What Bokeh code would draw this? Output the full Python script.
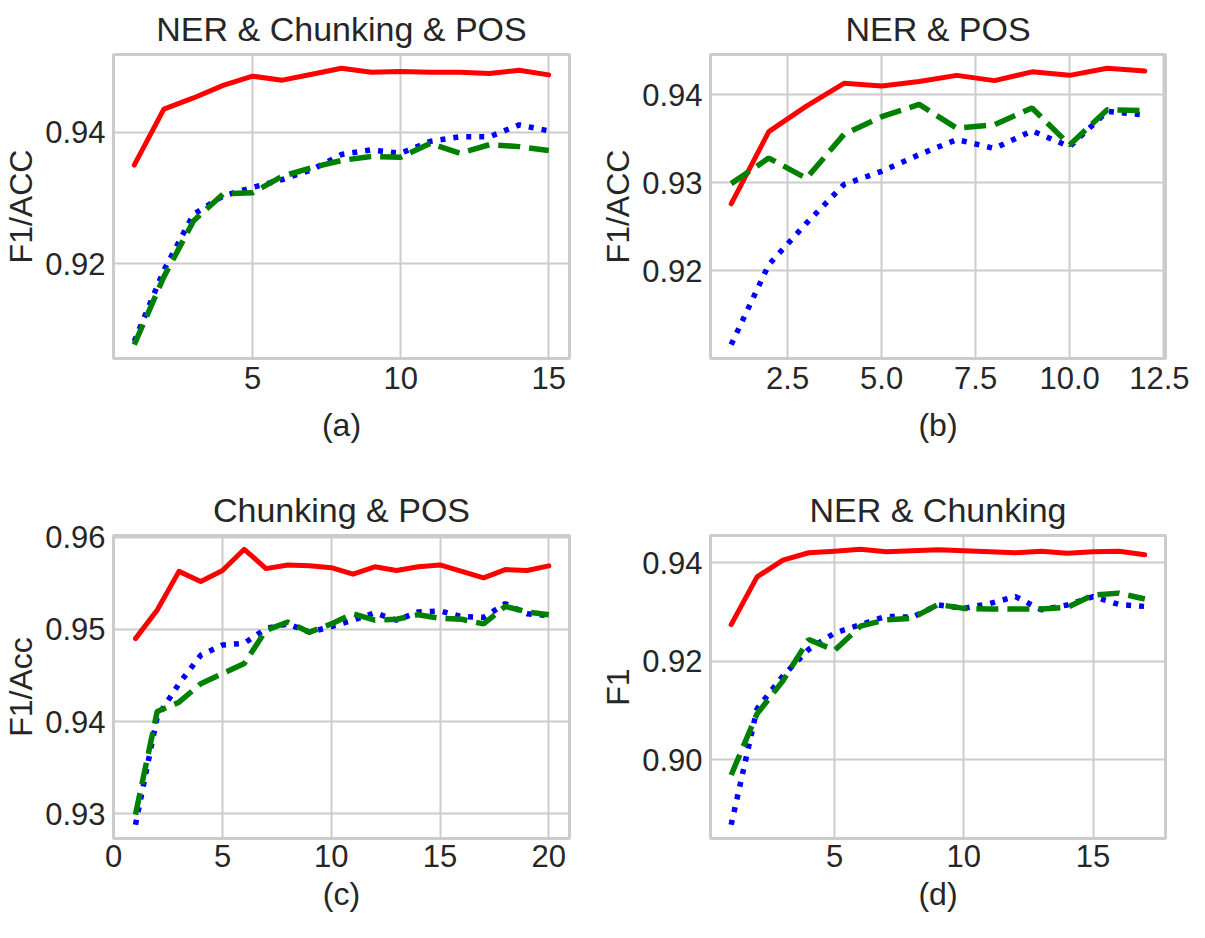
from bokeh.plotting import figure
from bokeh.layouts import gridplot
from bokeh.models import Range1d, FixedTicker, PrintfTickFormatter
from bokeh.embed import file_html
from bokeh.resources import INLINE

# ---------------- data ----------------
x_a = [1, 2, 3, 4, 5, 6, 7, 8, 9, 10, 11, 12, 13, 14, 15]
solid_a = [0.9350, 0.9435, 0.9452, 0.9471, 0.9485, 0.9479, 0.9488, 0.9497, 0.9491,
           0.9492, 0.9491, 0.9491, 0.9489, 0.9494, 0.9487]
dotted_a = [0.9082, 0.9190, 0.9275, 0.9303, 0.9316, 0.9328, 0.9343, 0.9366, 0.9373,
            0.9368, 0.9386, 0.9393, 0.9393, 0.9411, 0.9402]
dashed_a = [0.9077, 0.9180, 0.9265, 0.9306, 0.9308, 0.9333, 0.9346, 0.9357, 0.9363,
            0.9362, 0.9383, 0.9368, 0.9381, 0.9378, 0.9372]

x_b = [1, 2, 3, 4, 5, 6, 7, 8, 9, 10, 11, 12]
solid_b = [0.9276, 0.9358, 0.9387, 0.9413, 0.9410, 0.9415, 0.9422, 0.9416, 0.9426,
           0.9422, 0.9430, 0.9427]
dotted_b = [0.9116, 0.9207, 0.9254, 0.9298, 0.9313, 0.9332, 0.9349, 0.9339, 0.9359,
            0.9341, 0.9381, 0.9377]
dashed_b = [0.9299, 0.9328, 0.9305, 0.9355, 0.9375, 0.9389, 0.9362, 0.9366, 0.9385,
            0.9343, 0.9383, 0.9382]

x_c = [1, 2, 3, 4, 5, 6, 7, 8, 9, 10, 11, 12, 13, 14, 15, 16, 17, 18, 19, 20]
solid_c = [0.9490, 0.9521, 0.9563, 0.9552, 0.9564, 0.9587, 0.9566, 0.9570, 0.9569,
           0.9567, 0.9560, 0.9568, 0.9564, 0.9568, 0.9570, 0.9563, 0.9556, 0.9565,
           0.9564, 0.9569]
dotted_c = [0.9288, 0.9405, 0.9441, 0.9472, 0.9483, 0.9485, 0.9501, 0.9506, 0.9497,
            0.9503, 0.9510, 0.9518, 0.9510, 0.9519, 0.9520, 0.9514, 0.9513, 0.9528,
            0.9517, 0.9515]
dashed_c = [0.9299, 0.9411, 0.9421, 0.9441, 0.9452, 0.9463, 0.9499, 0.9508, 0.9497,
            0.9506, 0.9517, 0.9510, 0.9511, 0.9516, 0.9512, 0.9511, 0.9506, 0.9525,
            0.9519, 0.9516]

x_d = [1, 2, 3, 4, 5, 6, 7, 8, 9, 10, 11, 12, 13, 14, 15, 16, 17]
solid_d = [0.9274, 0.9371, 0.9405, 0.9420, 0.9423, 0.9427, 0.9422, 0.9424, 0.9426,
           0.9424, 0.9422, 0.9420, 0.9423, 0.9419, 0.9422, 0.9423, 0.9416]
dotted_d = [0.8868, 0.9103, 0.9170, 0.9224, 0.9257, 0.9274, 0.9291, 0.9289, 0.9314,
            0.9307, 0.9317, 0.9331, 0.9304, 0.9314, 0.9331, 0.9315, 0.9311]
dashed_d = [0.8969, 0.9093, 0.9160, 0.9244, 0.9222, 0.9271, 0.9284, 0.9287, 0.9315,
            0.9307, 0.9306, 0.9306, 0.9306, 0.9309, 0.9334, 0.9338, 0.9326]

titles = ["NER & Chunking & POS", "NER & POS", "Chunking & POS", "NER & Chunking"]
xlabels = ["(a)", "(b)", "(c)", "(d)"]
ylabels = ["F1/ACC", "F1/ACC", "F1/Acc", "F1"]

xticks_a = [5, 10, 15]
yticks_a = [0.92, 0.94]
xticks_b = [2.5, 5.0, 7.5, 10.0, 12.5]
yticks_b = [0.91, 0.92, 0.93, 0.94]
xticks_c = [0, 5, 10, 15, 20]
yticks_c = [0.93, 0.94, 0.95, 0.96]
xticks_d = [5, 10, 15]
yticks_d = [0.90, 0.92, 0.94]

# ---------------- styling ----------------
TEXT = "#262626"
GRID = "#cccccc"
FONT = "Liberation Sans"


def padded(lo, hi, frac=0.05):
    d = (hi - lo) * frac
    return lo - d, hi + d


def panel(title, xlabel, ylabel, x, solid, dotted, dashed, xticks, yticks,
          xfmt, yfmt, width, height, bl, br, bt, bb, xtick_standoff,
          xlab_standoff, xstart=None):
    x0, x1 = padded(min(x), max(x))
    if xstart is not None:
        x0 = xstart
    allv = solid + dotted + dashed
    y0, y1 = padded(min(allv), max(allv))
    p = figure(width=width, height=height, output_backend="svg",
               toolbar_location=None, x_range=Range1d(x0, x1),
               y_range=Range1d(y0, y1), title=title,
               min_border_left=bl, min_border_right=br,
               min_border_top=bt, min_border_bottom=bb)
    p.background_fill_color = "white"
    p.border_fill_color = "white"
    p.outline_line_color = GRID
    p.outline_line_width = 3

    p.title.text_font = FONT
    p.title.text_font_size = "34px"
    p.title.text_font_style = "normal"
    p.title.text_color = TEXT
    p.title.align = "center"
    p.title.standoff = 14

    p.xaxis.ticker = FixedTicker(ticks=xticks)
    p.yaxis.ticker = FixedTicker(ticks=yticks)
    p.xaxis.formatter = PrintfTickFormatter(format=xfmt)
    p.yaxis.formatter = PrintfTickFormatter(format=yfmt)
    for ax in (p.xaxis, p.yaxis):
        ax.axis_line_color = None
        ax.major_tick_line_color = None
        ax.minor_tick_line_color = None
        ax.major_tick_out = 0
        ax.major_tick_in = 0
        ax.major_label_text_font = FONT
        ax.major_label_text_font_size = "31px"
        ax.major_label_text_color = TEXT
        ax.axis_label_text_font = FONT
        ax.axis_label_text_font_size = "32px"
        ax.axis_label_text_font_style = "normal"
        ax.axis_label_text_color = TEXT
    p.xaxis.axis_label = xlabel
    p.yaxis.axis_label = ylabel
    p.xaxis.major_label_standoff = xtick_standoff
    p.yaxis.major_label_standoff = 8
    p.xaxis.axis_label_standoff = xlab_standoff
    p.yaxis.axis_label_standoff = 3

    p.xgrid.grid_line_color = GRID
    p.ygrid.grid_line_color = GRID
    p.xgrid.grid_line_width = 2
    p.ygrid.grid_line_width = 2

    p.line(x, solid, line_color="#ff0000", line_width=5,
           line_cap="round", line_join="round")
    p.line(x, dotted, line_color="#0000ff", line_width=5.5,
           line_dash="5 8", line_cap="butt")
    p.line(x, dashed, line_color="#008000", line_width=5.5,
           line_dash="22 9", line_cap="butt")
    return p


W1, W2 = 597, 592
H1, H2 = 481, 441

pa = panel(titles[0], xlabels[0], ylabels[0], x_a, solid_a, dotted_a, dashed_a,
           xticks_a, yticks_a, "%d", "%.2f", W1, H1, 108, 28, 53, 123, 8, 15)
pb = panel(titles[1], xlabels[1], ylabels[1], x_b, solid_b, dotted_b, dashed_b,
           xticks_b, yticks_b, "%.1f", "%.2f", W2, H1, 108, 24, 53, 123, 8, 15)
pc = panel(titles[2], xlabels[2], ylabels[2], x_c, solid_c, dotted_c, dashed_c,
           xticks_c, yticks_c, "%d", "%.2f", W1, H2, 108, 28, 53, 84, 6, 6,
           xstart=-0.01)
pd = panel(titles[3], xlabels[3], ylabels[3], x_d, solid_d, dotted_d, dashed_d,
           xticks_d, yticks_d, "%d", "%.2f", W2, H2, 108, 24, 53, 84, 6, 6)

grid = gridplot([[pa, pb], [pc, pd]], toolbar_location=None)

open("out.html", "w").write(file_html(grid, INLINE))
